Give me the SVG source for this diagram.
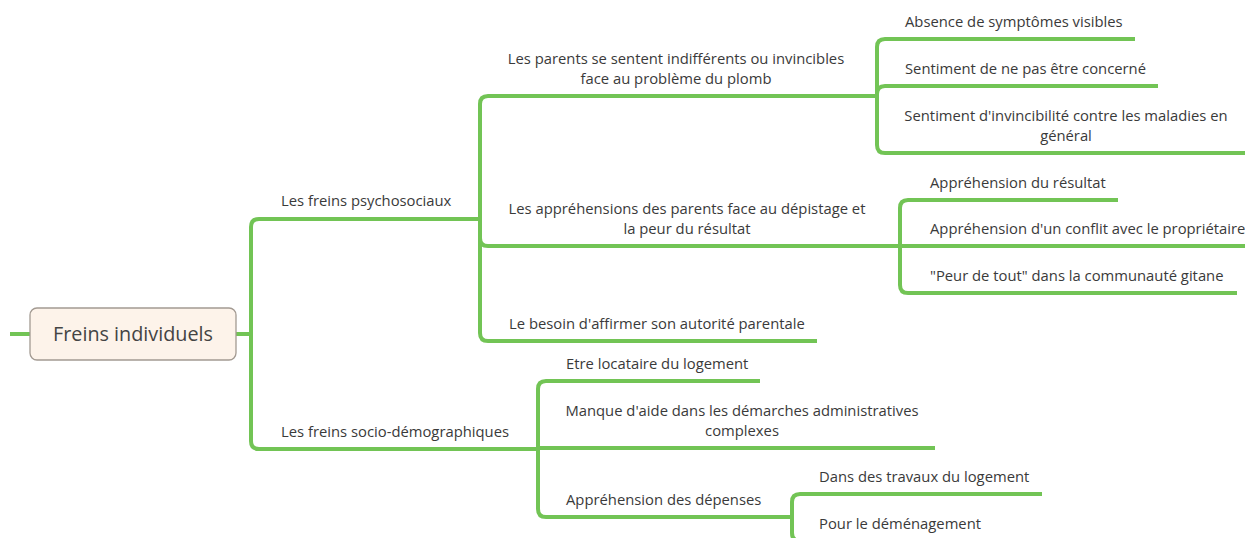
<svg xmlns="http://www.w3.org/2000/svg" width="1245" height="538" viewBox="0 0 1245 538">
<style>
.c{fill:none;stroke:#72c455;stroke-width:4;stroke-linecap:butt;stroke-linejoin:round}
.t{font-family:"Open Sans","Noto Sans","Liberation Sans",sans-serif;font-size:14.8px;fill:#3a3a3a}
.m{text-anchor:middle}
.root{fill:#fdf3ea;stroke:#a39a92;stroke-width:1.3}
.rt{font-family:"Open Sans","Noto Sans","Liberation Sans",sans-serif;font-size:19.8px;fill:#444;text-anchor:middle}
</style>
<rect width="1245" height="538" fill="#fff"/>
<g id="connectors">
<path class="c" d="M10,334 H30"/>
<path class="c" d="M236,334 H251 M251,334 V227 Q251,219 259,219 H480 M251,334 V441 Q251,449 259,449 H538"/>
<path class="c" d="M480,219 V104 Q480,96 488,96 H877 M480,219 V238 Q480,246 488,246 H900 M480,219 V333 Q480,341 488,341 H817"/>
<path class="c" d="M877,96 V47 Q877,39 885,39 H1135 M877,96 V94 Q877,86 885,86 H1158 M877,96 V145 Q877,153 885,153 H1245"/>
<path class="c" d="M900,246 V208 Q900,200 908,200 H1118 M900,246 H1245 M900,246 V285 Q900,293 908,293 H1237"/>
<path class="c" d="M538,448 V389 Q538,381 546,381 H760 M538,448 H935 M538,448 V509 Q538,517 546,517 H792"/>
<path class="c" d="M792,517 V502 Q792,494 800,494 H1042 M792,517 V533 Q792,541 800,541 H1000"/>
</g>
<g id="root"><rect class="root" x="30" y="308" width="206" height="52" rx="7"/><text class="rt" x="133" y="341">Freins individuels</text></g>
<g id="psycho"><text class="t" x="281" y="206">Les freins psychosociaux</text></g>
<g id="socio"><text class="t" x="281" y="437">Les freins socio-démographiques</text></g>
<g id="parents"><text class="t m" x="676" y="64">Les parents se sentent indifférents ou invincibles</text><text class="t m" x="676" y="84">face au problème du plomb</text></g>
<g id="apprehensions"><text class="t m" x="687" y="214">Les appréhensions des parents face au dépistage et</text><text class="t m" x="687" y="234">la peur du résultat</text></g>
<g id="besoin"><text class="t" x="509" y="329">Le besoin d'affirmer son autorité parentale</text></g>
<g id="absence"><text class="t" x="905" y="27">Absence de symptômes visibles</text></g>
<g id="concerne"><text class="t" x="905" y="74">Sentiment de ne pas être concerné</text></g>
<g id="invincibilite"><text class="t m" x="1066" y="121">Sentiment d'invincibilité contre les maladies en</text><text class="t m" x="1066" y="141">général</text></g>
<g id="resultat"><text class="t" x="930" y="188">Appréhension du résultat</text></g>
<g id="conflit"><text class="t" x="930" y="234">Appréhension d'un conflit avec le propriétaire</text></g>
<g id="peur"><text class="t" x="930" y="281">"Peur de tout" dans la communauté gitane</text></g>
<g id="locataire"><text class="t" x="566" y="369">Etre locataire du logement</text></g>
<g id="manque"><text class="t m" x="742" y="416">Manque d'aide dans les démarches administratives</text><text class="t m" x="742" y="436">complexes</text></g>
<g id="depenses"><text class="t" x="566" y="505">Appréhension des dépenses</text></g>
<g id="travaux"><text class="t" x="819" y="482">Dans des travaux du logement</text></g>
<g id="demenagement"><text class="t" x="819" y="529">Pour le déménagement</text></g>
</svg>
